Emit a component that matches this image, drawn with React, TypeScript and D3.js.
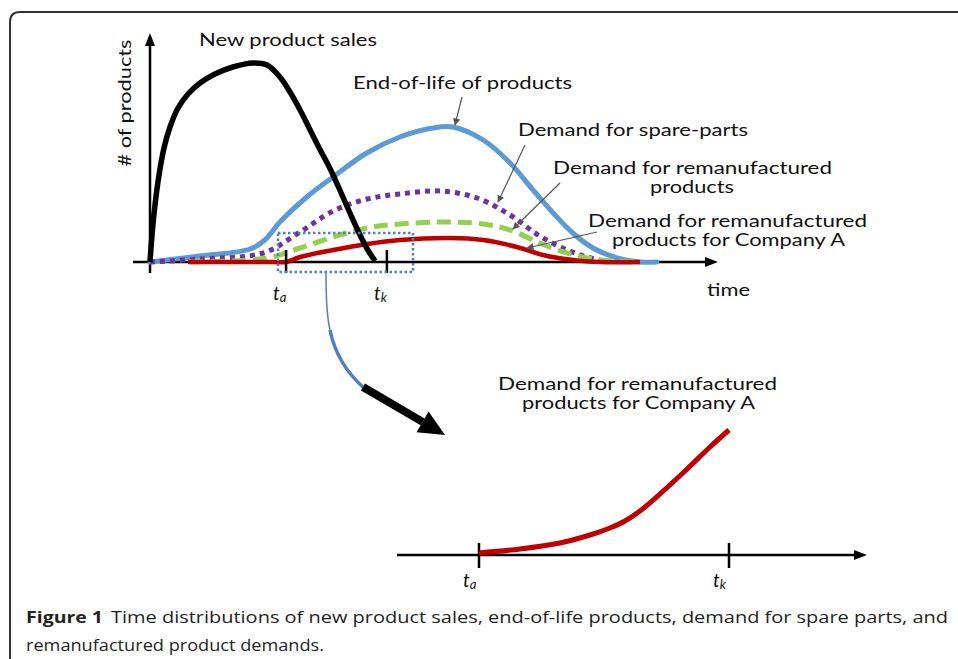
import React from "react";
import * as d3 from "d3";

// ---- data (time in arbitrary units, value in arbitrary units) ----
const salesTime = [0, 0.36, 0.89, 1.61, 2.5, 3.57, 5.0, 6.79, 8.93, 11.6, 14.8, 18.4, 20.9, 23.2, 25, 26.8, 28.6, 30.4, 32.1, 33.9, 35.7, 37.5, 38.9, 40.2];
const salesValue = [0, 13.5, 28.5, 43.5, 57, 67.5, 77, 84, 89.5, 94, 97.5, 99.5, 98.5, 92.5, 85, 76, 66, 56, 47, 36, 24.5, 13.5, 6, 0.5];

const eolTime = [0, 8.9, 17.9, 20.5, 23.2, 28, 32.7, 38.7, 44.6, 50.5, 54.1, 59.5, 64.3, 68.4, 72, 75.5, 79.1, 83.4, 87.5, 90.5];
const eolValue = [0, 3, 6.5, 11, 20, 32.5, 42.5, 54.5, 62.5, 67, 67.5, 61, 49.5, 36, 24.5, 14.5, 7, 2, 0, 0];

const spareTime = [0, 8.9, 20.2, 26.8, 32.7, 38.8, 44.6, 51.8, 58.4, 64.3, 69.6, 74.5, 78, 81.6];
const spareValue = [0, 1.5, 4.5, 15, 25.5, 31.5, 34, 35.5, 32, 23.5, 13, 6, 2.5, 0];

const remanTime = [7.1, 20.9, 26.8, 32.7, 38.8, 44.6, 53.6, 59.5, 64.3, 69.6, 74.5, 80.4, 87.5];
const remanValue = [0, 2, 7, 12.5, 17, 19, 20, 19, 16, 9.5, 4.5, 1, 0];

const companyTime = [6.8, 15, 22, 24.3, 26.8, 32.7, 38.8, 44.6, 53.6, 59.5, 65.5, 70.2, 75.5, 80.4, 87.5];
const companyValue = [0, 0, 0, 0, 2.5, 6, 9, 11, 12, 11, 7.5, 3.5, 1, 0, 0];

const insetTime = [24.3, 27.25, 30.13, 32.29, 33.73, 34.81, 35.89, 37.33, 39.13, 40.93, 42.3];
const insetValue = [0.16, 0.48, 0.96, 1.6, 2.16, 2.72, 3.52, 4.88, 6.72, 8.64, 10];

const tickTimes = [24.3, 42.3];
const tickSubs = ["a", "k"];

const labelFont = "Lato, 'Open Sans', sans-serif";
const captionFont = "'Open Sans', 'Noto Sans', sans-serif";

export default function App() {
  const xMain = d3.scaleLinear().domain([0, 100]).range([150, 710]);
  const yMain = d3.scaleLinear().domain([0, 100]).range([262, 62]);
  const xInset = d3.scaleLinear().domain([tickTimes[0], tickTimes[1]]).range([479, 729]);
  const yInset = d3.scaleLinear().domain([0, 10]).range([555, 430]);

  const curve = d3.curveCatmullRom.alpha(0.5);
  const lineMain = d3
    .line<[number, number]>()
    .x((d) => xMain(d[0]))
    .y((d) => yMain(d[1]))
    .curve(curve);
  const lineInset = d3
    .line<[number, number]>()
    .x((d) => xInset(d[0]))
    .y((d) => yInset(d[1]))
    .curve(curve);

  const sales = lineMain(d3.zip(salesTime, salesValue) as [number, number][]) || "";
  const eol = lineMain(d3.zip(eolTime, eolValue) as [number, number][]) || "";
  const spare = lineMain(d3.zip(spareTime, spareValue) as [number, number][]) || "";
  const reman = lineMain(d3.zip(remanTime, remanValue) as [number, number][]) || "";
  const company = lineMain(d3.zip(companyTime, companyValue) as [number, number][]) || "";
  const inset = lineInset(d3.zip(insetTime, insetValue) as [number, number][]) || "";

  const y0 = yMain(0);
  const yi0 = yInset(0);

  // big black arrow geometry
  const tip: [number, number] = [445, 435];
  const start: [number, number] = [363, 387];
  const dx = tip[0] - start[0];
  const dy = tip[1] - start[1];
  const len = Math.hypot(dx, dy);
  const ux = dx / len, uy = dy / len;
  const nx = -uy, ny = ux;
  const hl = 26, hw = 12;
  const bx = tip[0] - hl * ux, by = tip[1] - hl * uy;

  const fs = 17;

  return (
    <svg
      width={958}
      height={659}
      style={{ position: "absolute", left: 0, top: 0, background: "#fff" }}
    >
      <defs>
        <marker id="ga" viewBox="0 0 10 10" refX="9" refY="5" markerWidth="6" markerHeight="6" orient="auto">
          <path d="M0,0L10,5L0,10z" fill="#555" />
        </marker>
      </defs>
      <rect x={0} y={0} width={958} height={659} fill="#fff" />
      {/* frame */}
      <path d="M10,659 L10,22 Q10,12 20,12 L958,12" fill="none" stroke="#333" strokeWidth={2} />

      {/* main axes */}
      <line x1={133} y1={y0} x2={708} y2={y0} stroke="#000" strokeWidth={2.5} />
      <path d={`M718,${y0} L705,${y0 - 5} L705,${y0 + 5} Z`} fill="#000" />
      <line x1={xMain(0)} y1={273} x2={xMain(0)} y2={43} stroke="#000" strokeWidth={2.5} />
      <path d={`M${xMain(0)},33 L${xMain(0) - 5},46 L${xMain(0) + 5},46 Z`} fill="#000" />

      {/* curves */}
      <path d={eol} fill="none" stroke="#5b9bd5" strokeWidth={5} strokeLinecap="round" />
      <path d={spare} fill="none" stroke="#7030a0" strokeWidth={5} strokeDasharray="5,5" />
      <path d={reman} fill="none" stroke="#92d050" strokeWidth={5} strokeDasharray="14,7" />
      <path d={company} fill="none" stroke="#c00000" strokeWidth={4.5} />
      <path d={sales} fill="none" stroke="#000" strokeWidth={5.5} strokeLinejoin="round" />

      {/* ticks */}
      {tickTimes.map((t, i) => (
        <g key={i}>
          <line x1={xMain(t)} y1={250} x2={xMain(t)} y2={273} stroke="#000" strokeWidth={2.5} />
          <text x={xMain(t) - 13} y={300} fontFamily={labelFont} fontStyle="italic" fontSize={19} fill="#111">
            t
            <tspan fontSize={13} dy={2}>{tickSubs[i]}</tspan>
          </text>
        </g>
      ))}

      {/* dotted zoom box */}
      <rect x={278} y={233} width={135} height={39} fill="none" stroke="#4f81bd" strokeWidth={2.5} strokeDasharray="2.5,2.5" />

      {/* connector */}
      <path d="M326,273 C326,300 327,318 330,330" fill="none" stroke="#4f81bd" strokeWidth={1.5} />
      <path d="M330,330 C335,355 347,373 364,388" fill="none" stroke="#4f81bd" strokeWidth={3.5} />
      <line x1={start[0]} y1={start[1]} x2={bx} y2={by} stroke="#000" strokeWidth={8} />
      <path
        d={`M${tip[0]},${tip[1]} L${bx + hw * nx},${by + hw * ny} L${bx - hw * nx},${by - hw * ny} Z`}
        fill="#000"
      />

      {/* labels */}
      <text x={199} y={46} fontFamily={labelFont} fontSize={fs} fill="#111" textLength={178} lengthAdjust="spacingAndGlyphs">
        New product sales
      </text>
      <text x={353} y={89} fontFamily={labelFont} fontSize={fs} fill="#111" textLength={219} lengthAdjust="spacingAndGlyphs">
        End-of-life of products
      </text>
      <text x={518} y={136} fontFamily={labelFont} fontSize={fs} fill="#111" textLength={230} lengthAdjust="spacingAndGlyphs">
        Demand for spare-parts
      </text>
      <text x={553} y={174} fontFamily={labelFont} fontSize={fs} fill="#111" textLength={279} lengthAdjust="spacingAndGlyphs">
        Demand for remanufactured
      </text>
      <text x={650} y={193} fontFamily={labelFont} fontSize={fs} fill="#111" textLength={84} lengthAdjust="spacingAndGlyphs">
        products
      </text>
      <text x={588} y={227} fontFamily={labelFont} fontSize={fs} fill="#111" textLength={279} lengthAdjust="spacingAndGlyphs">
        Demand for remanufactured
      </text>
      <text x={612} y={246} fontFamily={labelFont} fontSize={fs} fill="#111" textLength={233} lengthAdjust="spacingAndGlyphs">
        products for Company A
      </text>
      <text x={707} y={296} fontFamily={labelFont} fontSize={fs} fill="#111" textLength={43} lengthAdjust="spacingAndGlyphs">
        time
      </text>
      <text
        transform="translate(131,103) rotate(-90)"
        textAnchor="middle"
        fontFamily={labelFont}
        fontSize={fs}
        fill="#111"
        textLength={127}
        lengthAdjust="spacingAndGlyphs"
      >
        # of products
      </text>

      {/* annotation arrows */}
      <line x1={462} y1={97} x2={455} y2={125} stroke="#555" strokeWidth={1.2} markerEnd="url(#ga)" />
      <line x1={525} y1={145} x2={498} y2={202} stroke="#555" strokeWidth={1.2} markerEnd="url(#ga)" />
      <line x1={560} y1={183} x2={513} y2={229} stroke="#555" strokeWidth={1.2} markerEnd="url(#ga)" />
      <line x1={597} y1={232} x2={527} y2={248} stroke="#555" strokeWidth={1.2} markerEnd="url(#ga)" />

      {/* inset */}
      <line x1={397} y1={yi0} x2={857} y2={yi0} stroke="#000" strokeWidth={2.5} />
      <path d={`M867,${yi0} L854,${yi0 - 5} L854,${yi0 + 5} Z`} fill="#000" />
      {tickTimes.map((t, i) => (
        <g key={"i" + i}>
          <line x1={xInset(t)} y1={543} x2={xInset(t)} y2={568} stroke="#000" strokeWidth={2.5} />
          <text x={xInset(t) - 16} y={587} fontFamily={labelFont} fontStyle="italic" fontSize={19} fill="#111">
            t
            <tspan fontSize={13} dy={2}>{tickSubs[i]}</tspan>
          </text>
        </g>
      ))}
      <path d={inset} fill="none" stroke="#c00000" strokeWidth={5} />
      <text x={498} y={390} fontFamily={labelFont} fontSize={fs} fill="#111" textLength={279} lengthAdjust="spacingAndGlyphs">
        Demand for remanufactured
      </text>
      <text x={522} y={409} fontFamily={labelFont} fontSize={fs} fill="#111" textLength={233} lengthAdjust="spacingAndGlyphs">
        products for Company A
      </text>

      {/* caption */}
      <text x={26} y={623} fontFamily={captionFont} fontSize={16} fontWeight="bold" fill="#231f20" textLength={77} lengthAdjust="spacingAndGlyphs">
        Figure 1
      </text>
      <text x={111} y={623} fontFamily={captionFont} fontSize={16} fill="#231f20" textLength={837} lengthAdjust="spacingAndGlyphs" style={{ fontWeight: 500 }}>
        Time distributions of new product sales, end-of-life products, demand for spare parts, and
      </text>
      <text x={26} y={651} fontFamily={captionFont} fontSize={16} fill="#231f20" textLength={298} lengthAdjust="spacingAndGlyphs" style={{ fontWeight: 500 }}>
        remanufactured product demands.
      </text>
    </svg>
  );
}
